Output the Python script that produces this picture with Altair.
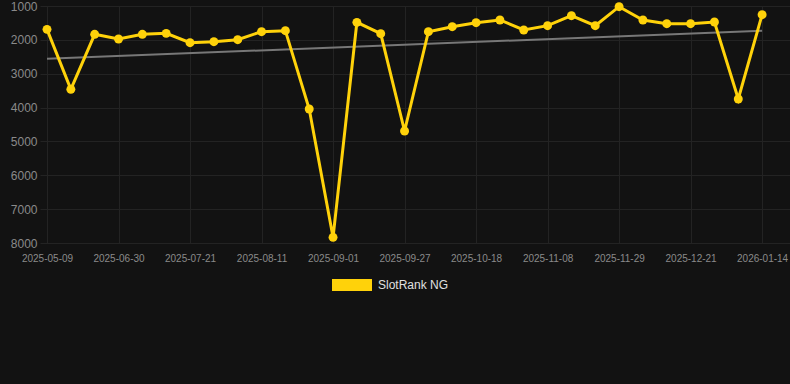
import altair as alt
import pandas as pd

dates = [
    "2025-05-09", "2025-06-16", "2025-06-23", "2025-06-30", "2025-07-07",
    "2025-07-14", "2025-07-21", "2025-07-28", "2025-08-04", "2025-08-11",
    "2025-08-18", "2025-08-25", "2025-09-01", "2025-09-10", "2025-09-19",
    "2025-09-27", "2025-10-04", "2025-10-11", "2025-10-18", "2025-10-25",
    "2025-11-01", "2025-11-08", "2025-11-15", "2025-11-22", "2025-11-29",
    "2025-12-06", "2025-12-13", "2025-12-21", "2025-12-28", "2026-01-05",
    "2026-01-14",
]
ranks = [
    1690, 3460, 1836, 1975, 1836, 1808, 2083, 2054, 1994, 1758,
    1729, 4042, 7832, 1483, 1817, 4692, 1758, 1611, 1493, 1413,
    1709, 1581, 1286, 1581, 1020, 1413, 1522, 1522, 1473, 3747,
    1257,
]
series_name = "SlotRank NG"
tick_idx = list(range(0, len(dates), 3))
tick_labels = [dates[i] for i in tick_idx]

df = pd.DataFrame({
    "idx": list(range(len(dates))),
    "date": dates,
    "rank": ranks,
    "series": [series_name] * len(dates),
})

YELLOW = "#FFD20A"
GRID = "#232323"
label_array = "[" + ",".join("'%s'" % t for t in tick_labels) + "]"

x_enc = alt.X(
    "idx:Q",
    scale=alt.Scale(domain=[-0.294, 31.17], nice=False, zero=False),
    axis=alt.Axis(
        values=tick_idx,
        labelExpr=label_array + "[round(datum.value/3)]",
        title=None,
        grid=True,
        gridColor=GRID,
        domain=False,
        ticks=False,
        labelColor="#8a8a8a",
        labelFontSize=10,
        labelFont="Liberation Sans",
        labelPadding=10,
        labelOverlap=False,
    ),
)
y_enc = alt.Y(
    "rank:Q",
    scale=alt.Scale(domain=[1000, 8000], reverse=True, nice=False, zero=False),
    axis=alt.Axis(
        values=[1000, 2000, 3000, 4000, 5000, 6000, 7000, 8000],
        title=None,
        grid=True,
        gridColor=GRID,
        domain=False,
        ticks=False,
        labelColor="#8a8a8a",
        labelFontSize=12,
        labelFont="Liberation Sans",
        labelPadding=3,
        format="d",
    ),
)

base = alt.Chart(df)

trend = base.transform_regression("idx", "rank").mark_line(
    color="#777777", strokeWidth=2
).encode(x=x_enc, y=y_enc)

line = base.mark_line(color=YELLOW, strokeWidth=3).encode(x=x_enc, y=y_enc)

points = base.mark_point(filled=True, size=80, opacity=1).encode(
    x=x_enc,
    y=y_enc,
    color=alt.Color(
        "series:N",
        scale=alt.Scale(domain=[series_name], range=[YELLOW]),
        legend=alt.Legend(
            title=None,
            orient="none",
            legendX=292,
            legendY=259,
            symbolType="M-1,-0.3L1,-0.3L1,0.3L-1,0.3Z",
            symbolSize=1600,
            symbolStrokeWidth=0,
            symbolFillColor=YELLOW,
            symbolOpacity=1,
            labelColor="#e0e0e0",
            labelFontSize=12,
            labelFont="Liberation Sans",
            labelOffset=6,
        ),
    ),
)

chart = (
    alt.layer(trend, line, points)
    .properties(
        width=750,
        height=237,
        background="#121212",
        padding={"left": 40, "top": 6, "right": 0, "bottom": 141},
        autosize=alt.AutoSizeParams(type="none"),
    )
    .configure_view(stroke=None)
)

chart.save("out.html", embed_options={"renderer": "svg", "actions": False})
